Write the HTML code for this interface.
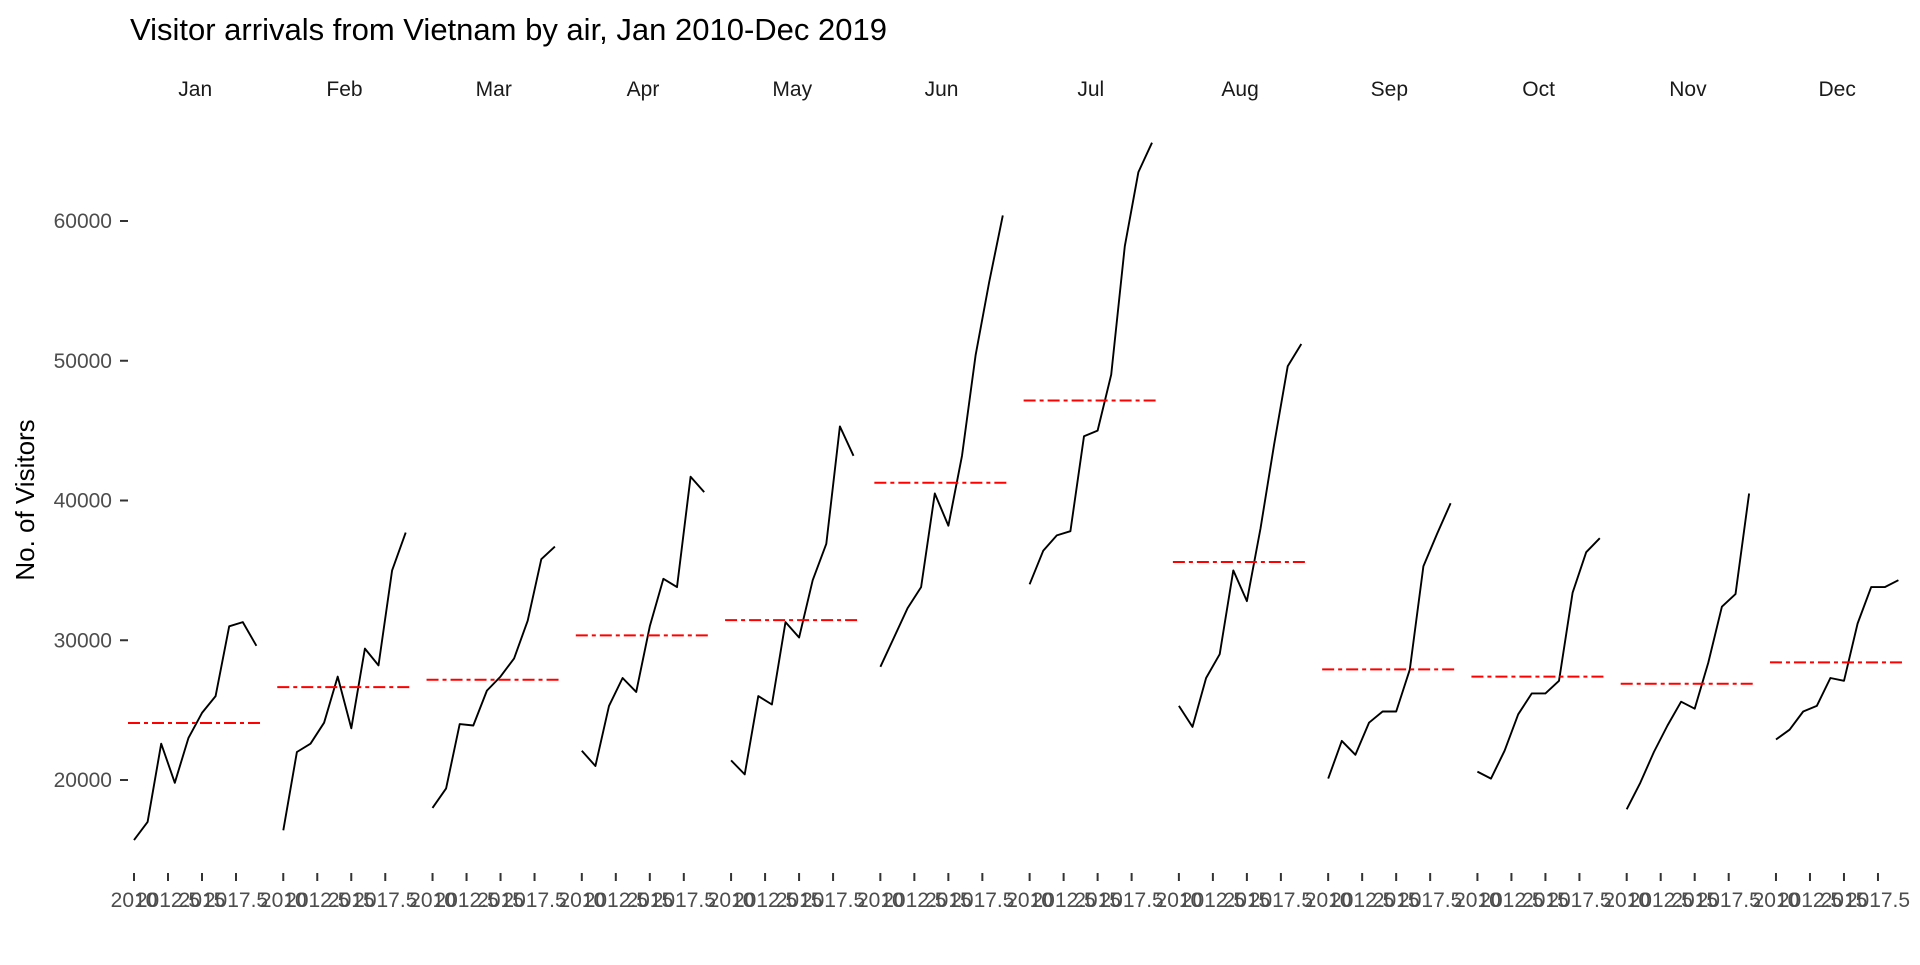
<!DOCTYPE html>
<html><head><meta charset="utf-8"><style>
html,body{margin:0;padding:0;background:#fff;}
svg text{font-family:"Liberation Sans",Arial,sans-serif;}
</style></head><body>
<svg id="chart" width="1920" height="960" xmlns="http://www.w3.org/2000/svg">
<rect width="1920" height="960" fill="#fff"/>
<text x="130" y="40" font-size="31" fill="#000">Visitor arrivals from Vietnam by air, Jan 2010-Dec 2019</text>
<text transform="translate(34,500) rotate(-90)" text-anchor="middle" font-size="26" fill="#000">No. of Visitors</text>
<g id="g"></g>
</svg>
<script>
const months = ["Jan","Feb","Mar","Apr","May","Jun","Jul","Aug","Sep","Oct","Nov","Dec"];
const years = [2010,2011,2012,2013,2014,2015,2016,2017,2018,2019];
const jan = [15700,17000,22600,19800,23000,24800,26000,31000,31300,29600];
const feb = [16400,22000,22600,24100,27400,23700,29400,28200,35000,37700];
const mar = [18000,19400,24000,23900,26400,27400,28700,31400,35800,36700];
const apr = [22100,21000,25300,27300,26300,31000,34400,33800,41700,40600];
const may = [21400,20400,26000,25400,31300,30200,34300,36900,45300,43200];
const jun = [28100,30200,32300,33800,40500,38200,43200,50400,55600,60400];
const jul = [34000,36400,37500,37800,44600,45000,49000,58200,63500,65600];
const aug = [25300,23800,27300,29000,35000,32800,38000,44000,49600,51200];
const sep = [20100,22800,21800,24100,24900,24900,27900,35300,37600,39800];
const oct = [20600,20100,22100,24700,26200,26200,27100,33400,36300,37300];
const nov = [17900,19800,22000,23900,25600,25100,28400,32400,33300,40500];
const dec = [22900,23600,24900,25300,27300,27100,31200,33800,33800,34300];
const series = [jan,feb,mar,apr,may,jun,jul,aug,sep,oct,nov,dec];
const yTicks = [20000,30000,40000,50000,60000];
const xTicks = [2010,2012.5,2015,2017.5];
const xTickLabels = ["2010","2012.5","2015","2017.5"];

const NS="http://www.w3.org/2000/svg";
const g=document.getElementById('g');
function y(v){return 221+(60000-v)*0.013975;}
function x(p,yr){return 134+p*149.27+(yr-2010)*13.6;}
function mk(t,a){const e=document.createElementNS(NS,t);for(const k in a)e.setAttribute(k,a[k]);g.appendChild(e);return e;}

yTicks.forEach(v=>{
  const t=mk('text',{x:112,y:y(v)+7,'text-anchor':'end','font-size':21,fill:'#4d4d4d'});
  t.textContent=v;
  
  
  const l=mk('line',{x1:120,x2:128,y1:y(v),y2:y(v),stroke:'#333','stroke-width':2});
  
  
});

months.forEach((m,p)=>{
  const vals=series[p];
  const x0=x(p,2010)-6, x1=x(p,2019)+6;
  const s=mk('text',{x:(x(p,2010)+x(p,2019))/2,y:96,'text-anchor':'middle','font-size':21,fill:'#1a1a1a'});
  s.textContent=m;
  
  
  xTicks.forEach((t,i)=>{
    const tk=mk('line',{x1:x(p,t),x2:x(p,t),y1:873,y2:881,stroke:'#333','stroke-width':2});
    
    
    const tl=mk('text',{x:x(p,t),y:907,'text-anchor':'middle','font-size':21,fill:'#4d4d4d'});
    tl.textContent=xTickLabels[i];
    
    
  });
  const pts=vals.map((v,i)=>x(p,years[i]).toFixed(1)+','+y(v).toFixed(1)).join(' ');
  const pl=mk('polyline',{points:pts,fill:'none',stroke:'#000','stroke-width':1.9,'stroke-linejoin':'round'});
  
  
  const mean=vals.reduce((a,b)=>a+b,0)/vals.length;
  const ml=mk('line',{x1:x0,x2:x1,y1:y(mean),y2:y(mean),stroke:'#ff0000','stroke-width':2,'stroke-dasharray':'12 4 4 4'});
  
  
});
</script>
</body></html>
